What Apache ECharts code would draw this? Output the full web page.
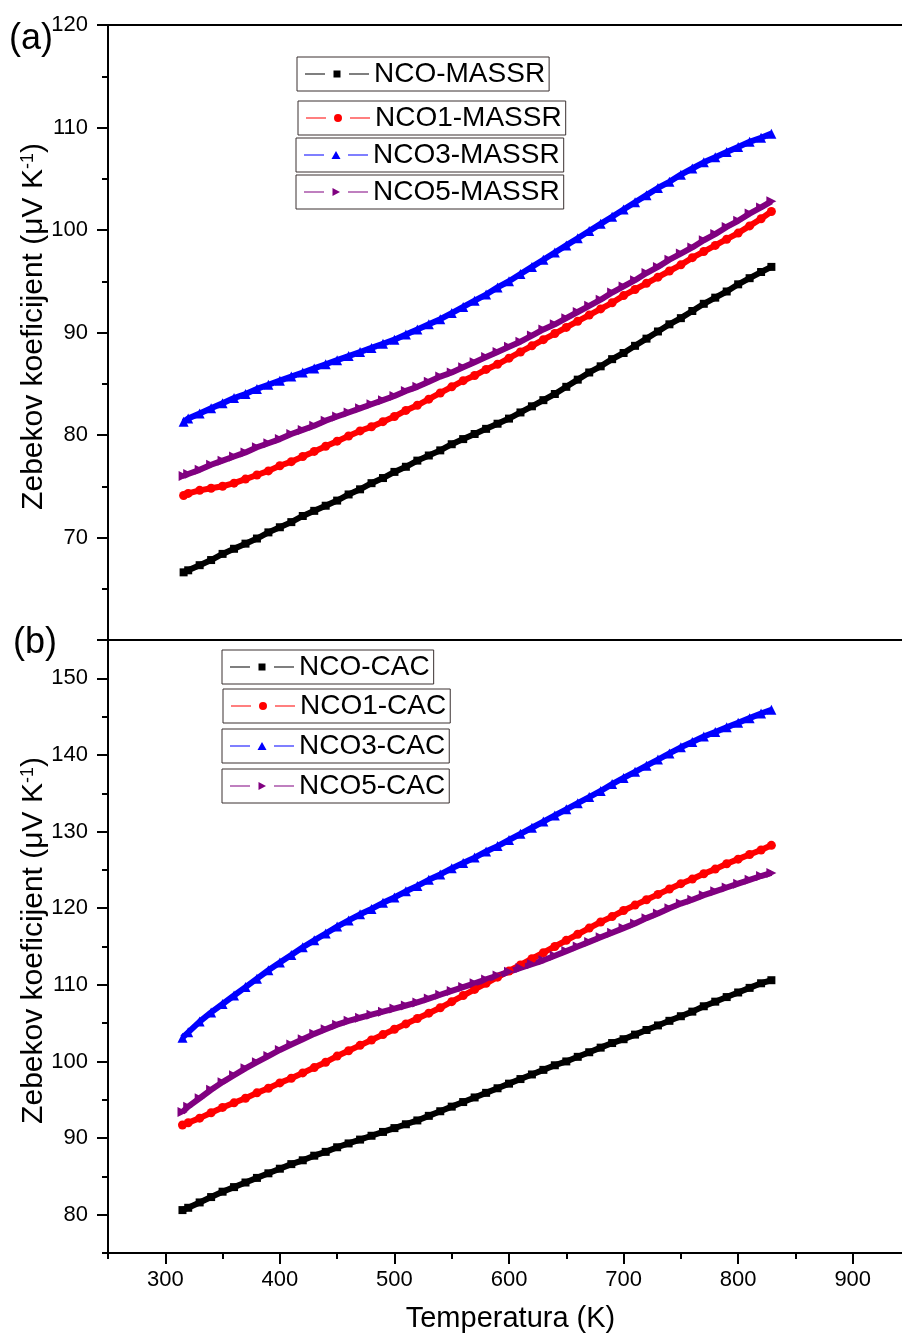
<!DOCTYPE html>
<html>
<head>
<meta charset="utf-8">
<script src="https://cdn.jsdelivr.net/npm/echarts@6/dist/echarts.min.js"></script>
<style>
html,body{margin:0;padding:0;background:#fff;}
#chart{width:902px;height:1334px;}
</style>
</head>
<body>
<div id="chart"></div>
<script>
// ---------- data ----------
const tempA = [316,320,330,340,350,360,370,380,390,400,410,420,430,440,450,460,470,480,490,500,510,520,530,540,550,560,570,580,590,600,610,620,630,640,650,660,670,680,690,700,710,720,730,740,750,760,770,780,790,800,810,820,829];
const tempB = [315,320,330,340,350,360,370,380,390,400,410,420,430,440,450,460,470,480,490,500,510,520,530,540,550,560,570,580,590,600,610,620,630,640,650,660,670,680,690,700,710,720,730,740,750,760,770,780,790,800,810,820,829];

const ncoMassr  = [66.6,66.8,67.3,67.8,68.4,68.9,69.4,69.9,70.5,71.0,71.5,72.1,72.6,73.1,73.6,74.2,74.7,75.3,75.8,76.4,76.9,77.5,78.0,78.5,79.1,79.6,80.1,80.6,81.1,81.6,82.2,82.8,83.4,84.0,84.7,85.4,86.1,86.7,87.4,88.0,88.7,89.4,90.1,90.8,91.4,92.1,92.8,93.4,94.0,94.7,95.3,95.9,96.4];
const nco1Massr = [74.1,74.3,74.6,74.8,75.0,75.3,75.7,76.1,76.5,77.0,77.4,77.9,78.4,78.9,79.4,79.9,80.4,80.8,81.3,81.8,82.4,82.9,83.5,84.1,84.7,85.3,85.8,86.4,86.9,87.5,88.1,88.7,89.3,89.9,90.5,91.1,91.7,92.3,92.9,93.6,94.2,94.8,95.4,96.0,96.6,97.3,97.9,98.5,99.1,99.7,100.4,101.1,101.8];
const nco3Massr = [81.3,81.6,82.1,82.6,83.1,83.6,84.0,84.5,84.9,85.3,85.7,86.1,86.5,86.9,87.3,87.7,88.1,88.5,88.9,89.3,89.8,90.3,90.8,91.3,91.9,92.5,93.1,93.7,94.4,95.0,95.7,96.4,97.1,97.8,98.5,99.2,99.9,100.6,101.3,102.0,102.7,103.4,104.1,104.7,105.4,106.0,106.6,107.1,107.6,108.1,108.6,109.0,109.4];
const nco5Massr = [76.0,76.2,76.6,77.1,77.5,77.9,78.3,78.8,79.2,79.6,80.1,80.5,80.9,81.4,81.8,82.2,82.6,83.0,83.4,83.8,84.3,84.7,85.2,85.7,86.1,86.6,87.1,87.6,88.1,88.6,89.1,89.7,90.3,90.8,91.4,92.0,92.6,93.2,93.9,94.5,95.1,95.8,96.4,97.1,97.7,98.3,99.0,99.6,100.3,100.9,101.6,102.2,102.8];

const ncoCac  = [80.6,80.9,81.6,82.3,83.0,83.6,84.2,84.8,85.4,86.0,86.6,87.1,87.7,88.2,88.8,89.3,89.8,90.3,90.8,91.3,91.8,92.3,92.9,93.5,94.1,94.7,95.3,95.9,96.5,97.1,97.7,98.3,98.9,99.5,100.0,100.6,101.2,101.8,102.4,102.9,103.5,104.1,104.7,105.3,105.9,106.5,107.2,107.8,108.4,109.0,109.6,110.2,110.6];
const nco1Cac = [91.7,92.0,92.6,93.3,94.0,94.6,95.2,95.9,96.5,97.2,97.8,98.5,99.2,99.9,100.7,101.4,102.1,102.8,103.5,104.2,104.9,105.6,106.3,107.0,107.8,108.6,109.4,110.2,111.0,111.8,112.6,113.4,114.2,115.0,115.8,116.6,117.4,118.2,118.9,119.7,120.4,121.1,121.8,122.5,123.2,123.8,124.5,125.1,125.8,126.4,127.0,127.6,128.2];
const nco3Cac = [103.1,103.8,105.2,106.4,107.5,108.6,109.7,110.8,111.9,112.9,113.9,114.9,115.8,116.7,117.6,118.4,119.2,119.9,120.7,121.4,122.2,122.9,123.7,124.4,125.2,125.9,126.6,127.4,128.1,128.9,129.7,130.5,131.3,132.1,132.9,133.7,134.5,135.3,136.2,137.0,137.8,138.6,139.4,140.2,141.0,141.7,142.4,143.0,143.6,144.2,144.8,145.4,145.9];
const nco5Cac = [93.4,94.1,95.2,96.3,97.3,98.2,99.1,99.9,100.7,101.5,102.2,102.9,103.6,104.2,104.8,105.3,105.7,106.1,106.5,106.9,107.3,107.7,108.2,108.7,109.2,109.7,110.2,110.7,111.2,111.7,112.2,112.7,113.2,113.8,114.4,115.0,115.6,116.2,116.8,117.4,118.0,118.7,119.3,120.0,120.6,121.1,121.7,122.2,122.7,123.2,123.7,124.2,124.6];

const namesA = ['NCO-MASSR','NCO1-MASSR','NCO3-MASSR','NCO5-MASSR'];
const namesB = ['NCO-CAC','NCO1-CAC','NCO3-CAC','NCO5-CAC'];

const xMajorTicks = [300,400,500,600,700,800,900];
const xMinorTicks = [250,350,450,550,650,750,850];
const yBMajorTicks = [80,90,100,110,120,130,140,150];
const yBMinorTicks = [75,85,95,105,115,125,135,145,155];
const yALabels = [70,80,90,100,110,120];

// ---------- styling ----------
const FONT = 'Liberation Sans, Arial, Helvetica, sans-serif';
const colors = ['#000000','#ff0000','#0000ff','#800080'];
const symbols = ['rect','circle','triangle','triangle'];
const rotations = [0,0,0,-90];
const symSizes = [8,9,10,10];

// legend icons: "— symbol —" with gaps (64 x 8 box)
const LEG_LINES = 'M0 3.5 H20 V4.5 H0 Z M44 3.5 H64 V4.5 H44 Z ';
const legendIcons = [
  'path://' + LEG_LINES + 'M28.5 0.5 H35.5 V7.5 H28.5 Z M0 0 Z M0 8 Z',
  'path://' + LEG_LINES + 'M28 4 A4 4 0 1 0 36 4 A4 4 0 1 0 28 4 Z',
  'path://' + LEG_LINES + 'M32 0 L36.5 8 L27.5 8 Z',
  'path://' + LEG_LINES + 'M28.5 0 L36 4 L28.5 8 Z'
];

function pairs(t, v){ return t.map((x,i)=>[x, v[i]]); }

const axisLineStyle = {show:true, lineStyle:{color:'#000', width:2}};
const X_MIN = 250, X_MAX = 943;

function mkSeries(name, idx, t, v, xi, yi){
  return {
    name: name, type:'line', xAxisIndex:xi, yAxisIndex:yi,
    data: pairs(t, v),
    symbol: symbols[idx], symbolSize: symSizes[idx], symbolRotate: rotations[idx],
    showSymbol:true, showAllSymbol:true,
    lineStyle:{color:colors[idx], width:6},
    itemStyle:{color:colors[idx]},
    emphasis:{disabled:true},
    animation:false
  };
}

function mkLegend(name, idx, left, top){
  return {
    data:[{name:name, icon:legendIcons[idx], itemStyle:{color:colors[idx], borderWidth:0}}],
    left:left, top:top, orient:'horizontal',
    padding:[3,4,3,8], itemWidth:64, itemHeight:8, itemGap:0,
    borderColor:'#3a3030', borderWidth:1,
    selectedMode:false,
    textStyle:{fontSize:28, color:'#000', fontFamily:FONT}
  };
}

const yName = 'Zebekov koeficijent (μV K{sup|-1})';
const yNameStyle = {fontSize:30, color:'#000', fontFamily:FONT, padding:[0,0,0,12],
  rich:{sup:{fontSize:18, color:'#000', verticalAlign:'top', fontFamily:FONT}}};

const option = {
  animation:false,
  backgroundColor:'#fff',
  textStyle:{fontFamily:FONT},
  grid:[
    {left:108, top:25, width:794, height:615},
    {left:108, top:640, width:794, height:613}
  ],
  xAxis:[
    {gridIndex:0, type:'value', min:X_MIN, max:X_MAX, position:'bottom',
     axisLine:axisLineStyle, axisTick:{show:false}, axisLabel:{show:false}, splitLine:{show:false}},
    {gridIndex:0, type:'value', min:X_MIN, max:X_MAX, position:'top',
     axisLine:axisLineStyle, axisTick:{show:false}, axisLabel:{show:false}, splitLine:{show:false}},
    {gridIndex:1, type:'value', min:X_MIN, max:X_MAX, position:'bottom',
     axisLine:axisLineStyle,
     axisTick:{show:true, customValues:xMajorTicks, length:11, lineStyle:{color:'#000', width:2}},
     axisLabel:{show:true, customValues:xMajorTicks, fontSize:22, color:'#000', margin:16, fontFamily:FONT},
     splitLine:{show:false},
     name:'Temperatura (K)', nameLocation:'middle', nameGap:51, nameMoveOverlap:false,
     nameTextStyle:{fontSize:29, color:'#000', fontFamily:FONT, padding:[0,0,0,11]}},
    {gridIndex:1, type:'value', min:X_MIN, max:X_MAX, position:'bottom',
     axisLine:{show:false},
     axisTick:{show:true, customValues:xMinorTicks, length:6, lineStyle:{color:'#000', width:2}},
     axisLabel:{show:false}, splitLine:{show:false}}
  ],
  yAxis:[
    {gridIndex:0, type:'value', min:60, max:120, interval:10, position:'left',
     axisLine:axisLineStyle,
     axisTick:{show:true, length:11, lineStyle:{color:'#000', width:2}},
     minorTick:{show:true, splitNumber:2, length:6, lineStyle:{color:'#000', width:2}},
     axisLabel:{show:true, customValues:yALabels, fontSize:22, color:'#000', margin:20, fontFamily:FONT},
     splitLine:{show:false}, minorSplitLine:{show:false},
     name:yName, nameLocation:'middle', nameGap:59, nameRotate:90, nameMoveOverlap:false,
     nameTextStyle:yNameStyle},
    {gridIndex:1, type:'value', min:75, max:155, position:'left',
     axisLine:axisLineStyle,
     axisTick:{show:true, customValues:yBMajorTicks, length:11, lineStyle:{color:'#000', width:2}},
     axisLabel:{show:true, customValues:yBMajorTicks, fontSize:22, color:'#000', margin:20, fontFamily:FONT},
     splitLine:{show:false},
     name:yName, nameLocation:'middle', nameGap:59, nameRotate:90, nameMoveOverlap:false,
     nameTextStyle:yNameStyle},
    {gridIndex:1, type:'value', min:75, max:155, position:'left',
     axisLine:{show:false},
     axisTick:{show:true, customValues:yBMinorTicks, length:6, lineStyle:{color:'#000', width:2}},
     axisLabel:{show:false}, splitLine:{show:false}}
  ],
  legend:[
    mkLegend(namesA[0], 0, 297, 57),
    mkLegend(namesA[1], 1, 298, 101),
    mkLegend(namesA[2], 2, 296, 138),
    mkLegend(namesA[3], 3, 296, 175),
    mkLegend(namesB[0], 0, 222, 650),
    mkLegend(namesB[1], 1, 223, 689),
    mkLegend(namesB[2], 2, 222, 729),
    mkLegend(namesB[3], 3, 222, 769)
  ],
  graphic:[
    {type:'text', left:9, top:21, style:{text:'(a)', font:'36px '+FONT, fill:'#000'}},
    {type:'text', left:13, top:625, style:{text:'(b)', font:'36px '+FONT, fill:'#000'}}
  ],
  series:[
    mkSeries(namesA[0],0,tempA,ncoMassr,0,0),
    mkSeries(namesA[1],1,tempA,nco1Massr,0,0),
    mkSeries(namesA[2],2,tempA,nco3Massr,0,0),
    mkSeries(namesA[3],3,tempA,nco5Massr,0,0),
    mkSeries(namesB[0],0,tempB,ncoCac,2,1),
    mkSeries(namesB[1],1,tempB,nco1Cac,2,1),
    mkSeries(namesB[2],2,tempB,nco3Cac,2,1),
    mkSeries(namesB[3],3,tempB,nco5Cac,2,1)
  ]
};

const chart = echarts.init(document.getElementById('chart'), null, {renderer:'canvas'});
chart.setOption(option);
</script>
</body>
</html>
